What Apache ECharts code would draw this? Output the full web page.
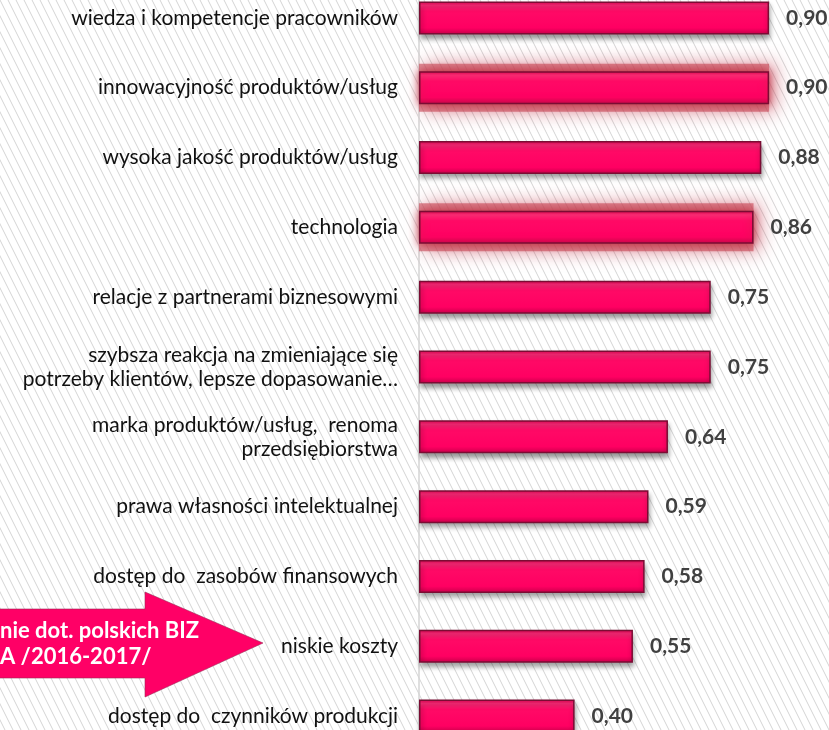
<!DOCTYPE html>
<html><head><meta charset="utf-8">
<script src="https://cdn.jsdelivr.net/npm/echarts@6/dist/echarts.min.js"></script>
<style>html,body{margin:0;padding:0;background:#fff;overflow:hidden}#c{width:829px;height:730px}</style>
</head><body><div id="c"></div>
<script>
const categories = [
  'wiedza i kompetencje pracowników',
  'innowacyjność produktów/usług',
  'wysoka jakość produktów/usług',
  'technologia',
  'relacje z partnerami biznesowymi',
  'szybsza reakcja na zmieniające się\npotrzeby klientów, lepsze dopasowanie…',
  'marka produktów/usług,  renoma\nprzedsiębiorstwa',
  'prawa własności intelektualnej',
  'dostęp do  zasobów finansowych',
  'niskie koszty',
  'dostęp do  czynników produkcji'
];
const values = [0.90, 0.90, 0.88, 0.86, 0.75, 0.75, 0.64, 0.59, 0.58, 0.55, 0.40];
const glowing = [1, 3];
const arrowLines = ['nie dot. polskich BIZ', 'A /2016-2017/'];

// hatch background tile
const tile = document.createElement('canvas');
tile.width = 8; tile.height = 16;
const tc = tile.getContext('2d');
tc.fillStyle = '#ffffff'; tc.fillRect(0, 0, 8, 16);
tc.strokeStyle = '#d4d4d4'; tc.lineWidth = 1;
for (let k = -2; k <= 2; k++) {
  tc.beginPath(); tc.moveTo(k * 8, 0); tc.lineTo(k * 8 + 8, 16); tc.stroke();
}

const barFill = new echarts.graphic.LinearGradient(0, 0, 0, 1, [
  {offset: 0, color: '#d9004f'},
  {offset: 0.12, color: '#ff2a78'},
  {offset: 0.3, color: '#ff0a66'},
  {offset: 0.8, color: '#ff0062'},
  {offset: 1, color: '#c8004a'}
]);

const data = values.map((v, i) => {
  const glow = glowing.includes(i);
  return {
    value: v,
    itemStyle: glow ? {
      shadowColor: 'rgba(190,45,65,1)', shadowBlur: 8, shadowOffsetX: 0, shadowOffsetY: 0
    } : {
      shadowColor: 'rgba(0,0,0,0.4)', shadowBlur: 5, shadowOffsetX: 1, shadowOffsetY: 4
    }
  };
});
const glowData = values.map((v, i) => glowing.includes(i) ? v : '-');

const chart = echarts.init(document.getElementById('c'), null, {renderer: 'canvas'});
chart.setOption({
  backgroundColor: {image: tile, repeat: 'repeat'},
  animation: false,
  grid: {left: 419, width: 389, top: -17, height: 768, containLabel: false, outerBoundsMode: 'none'},
  xAxis: {
    type: 'value', min: 0, max: 1, show: false
  },
  yAxis: [{
    type: 'category', inverse: true, data: categories,
    axisLine: {show: true, lineStyle: {color: '#d4d4d4', width: 1.5}},
    axisTick: {show: false},
    axisLabel: {
      color: '#111111', fontSize: 21, fontFamily: 'Lato', margin: 21, lineHeight: 24, align: 'right'
    },
    splitLine: {show: false}
  }, {
    type: 'category', inverse: true, data: categories, position: 'left', show: false
  }],
  series: [{
    type: 'bar', yAxisIndex: 1, data: glowData, barWidth: 48, z: 1, silent: true,
    itemStyle: {color: 'rgba(200,70,85,0.6)', shadowColor: 'rgba(195,55,75,0.95)', shadowBlur: 18, shadowOffsetX: 6, shadowOffsetY: 0},
    label: {show: false}
  }, {
    type: 'bar', yAxisIndex: 0, data: data, barWidth: 33, z: 2,
    itemStyle: {color: barFill, borderColor: '#7a0c33', borderWidth: 1.5},
    label: {
      show: true, position: 'right', distance: 17,
      fontFamily: 'Lato', fontWeight: 'bold', fontSize: 21, color: '#404040',
      formatter: p => p.value.toFixed(2).replace('.', ',')
    }
  }],
  graphic: [
    {
      type: 'polygon', z: 100,
      shape: {points: [[-2, 609], [145, 609], [145, 592], [263, 643], [145, 697], [145, 678], [-2, 678]]},
      style: {fill: '#ff0066', stroke: '#9a2a55', lineWidth: 0.6}
    },
    {
      type: 'text', z: 101, left: 0, top: 620,
      style: {text: arrowLines[0], fill: '#ffffff', font: 'bold 22px Lato'}
    },
    {
      type: 'text', z: 101, left: 0, top: 646,
      style: {text: arrowLines[1], fill: '#ffffff', font: 'bold 22px Lato'}
    }
  ]
});
</script>
</body></html>
